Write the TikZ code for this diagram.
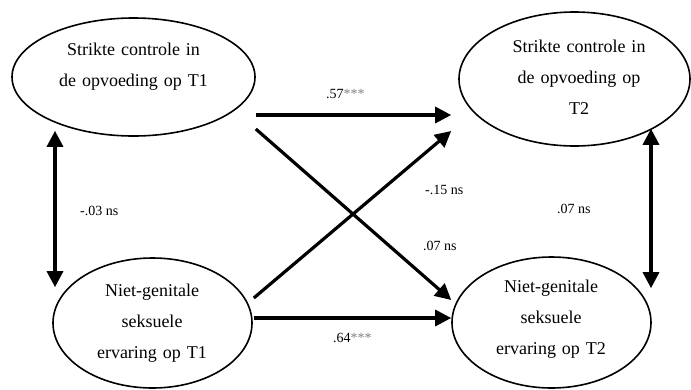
\documentclass[tikz,border=0pt]{standalone}
\usepackage{fontspec}
\setmainfont{Liberation Serif}
\usetikzlibrary{shapes.geometric,arrows.meta,calc}
\begin{document}
\begin{tikzpicture}[x=1pt,y=-1pt,
  var/.style={ellipse, draw, line width=1.6pt, inner sep=0pt},
  vtext/.style={text width=220pt, align=center, font=\fontsize{18}{31}\selectfont, anchor=base, inner sep=0pt},
  coef/.style={font=\fontsize{14}{16}\selectfont, anchor=base west, inner sep=0pt},
  pathar/.style={line width=3.2pt, -{Triangle[length=16pt,width=16pt]}},
  covar/.style={line width=3.2pt, {Triangle[length=16pt,width=16pt]}-{Triangle[length=16pt,width=16pt]}}
]
\useasboundingbox (0,0) rectangle (691,389);
% variables
\node[var, minimum width=243pt, minimum height=118pt] (s1) at (133.5,77) {};
\node[var, minimum width=231pt, minimum height=134pt] (s2) at (574.5,79) {};
\node[var, minimum width=199pt, minimum height=130pt] (n1) at (152.5,323) {};
\node[var, minimum width=199pt, minimum height=131pt] (n2) at (551.5,322.5) {};
% texts
\node[vtext] (s1t) at (133.5,55) {Strikte controle in\\de opvoeding op T1};
\node[vtext] (s2t) at (579,52) {Strikte controle in\\de opvoeding op\\T2};
\node[vtext] (n1t) at (152,296) {Niet-genitale\\seksuele\\ervaring op T1};
\node[vtext] (n2t) at (551,292) {Niet-genitale\\seksuele\\ervaring op T2};
% connector ends
\coordinate (a1) at ($(s1.east)+(0,38)$);
\coordinate (a2) at ($(s1.east)+(0,52)$);
\coordinate (b1) at ($(s2.west)+(-7,36)$);
\coordinate (b2) at ($(s2.west)+(-7,52)$);
\coordinate (c1) at ($(n1.east)+(1,-25)$);
\coordinate (c2) at ($(n1.east)+(1,-5)$);
\coordinate (d1) at ($(n2.west)+(0,-22.5)$);
\coordinate (d2) at ($(n2.west)+(0,-4.5)$);
\coordinate (l1) at ($(s1.south)+(-78.5,-6)$);
\coordinate (l2) at ($(n1.north)+(-97.5,30)$);
\coordinate (r1) at ($(s2.south)+(76.5,-18)$);
\coordinate (r2) at ($(n2.north)+(99.5,32)$);
% paths
\draw[pathar] (a1) -- (b1);
\draw[pathar] (a2) -- (d1);
\draw[pathar] (c1) -- (b2);
\draw[pathar] (c2) -- (d2);
\draw[covar] (l1) -- (l2);
\draw[covar] (r1) -- (r2);
% coefficients
\node[coef] (k1) at (326,98) {.57\textcolor{gray}{***}};
\node[coef] (k2) at (333,342) {.64\textcolor{gray}{***}};
\node[coef] (k3) at (425,194) {-.15 ns};
\node[coef] (k4) at (423,250) {.07 ns};
\node[coef] (k5) at (80,215) {-.03 ns};
\node[coef] (k6) at (557,213) {.07 ns};
\end{tikzpicture}
\end{document}
